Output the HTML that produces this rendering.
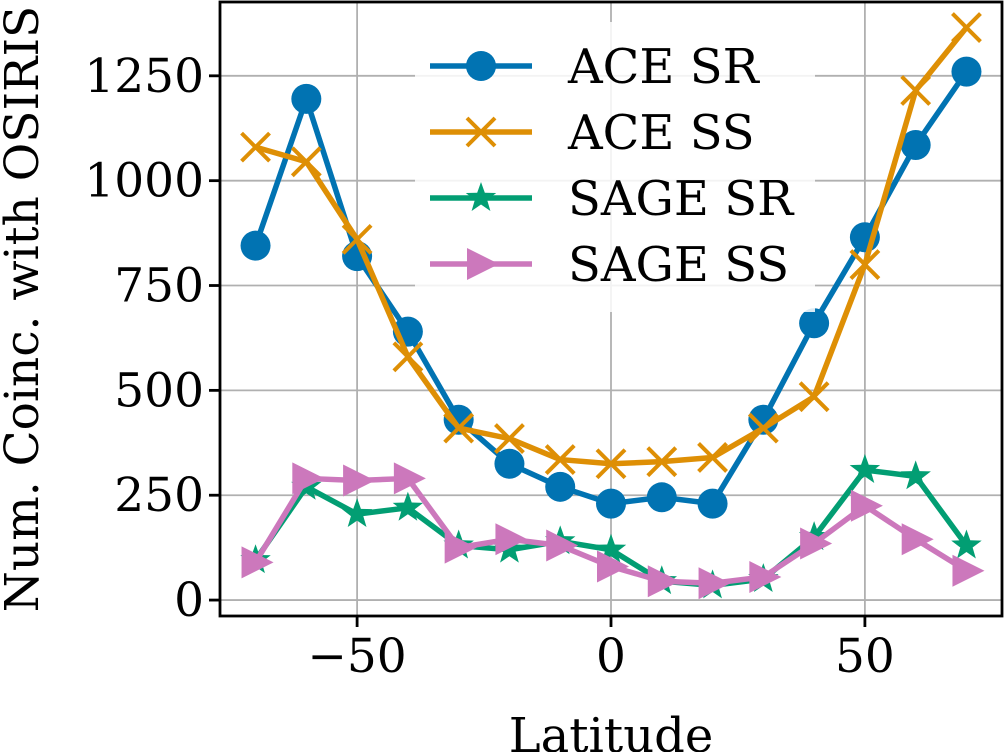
<!DOCTYPE html>
<html><head><meta charset="utf-8"><style>
html,body{margin:0;padding:0;background:#fff;}
svg{display:block;font-family:"DejaVu Serif","Liberation Serif",serif;}
</style></head><body>
<svg id="chart" width="1004" height="752" viewBox="0 0 1004 752" xmlns="http://www.w3.org/2000/svg"></svg>
<script>
const latitudes=[-70,-60,-50,-40,-30,-20,-10,0,10,20,30,40,50,60,70];
const aceSR=[845,1195,820,640,430,325,270,230,245,230,430,660,865,1085,1260];
const aceSS=[1080,1045,860,580,410,385,335,325,330,340,410,485,800,1215,1365];
const sageSR=[95,270,205,220,130,120,140,120,45,35,50,150,310,295,130];
const sageSS=[90,290,285,290,125,145,130,80,45,40,55,135,225,145,70];
const xTicks=[-50,0,50];
const xTickLabels=["\u221250","0","50"];
const yTicks=[0,250,500,750,1000,1250];
const yTickLabels=["0","250","500","750","1000","1250"];
const seriesNames=["ACE SR","ACE SS","SAGE SR","SAGE SS"];

const L=220,R=1002,T=2,B=616;
const xMin=-77,xMax=77,yMin=-38,yMax=1426;
const xs=v=>L+(v-xMin)/(xMax-xMin)*(R-L);
const ys=v=>B-(v-yMin)/(yMax-yMin)*(B-T);
const NS="http://www.w3.org/2000/svg";
const svg=document.getElementById('chart');
function mk(tag,attrs,parent){const e=document.createElementNS(NS,tag);for(const k in attrs)e.setAttribute(k,attrs[k]);(parent||svg).appendChild(e);return e;}

const grid=mk('g',{});


xTicks.forEach((t,i)=>{
  mk('line',{x1:xs(t),x2:xs(t),y1:T,y2:B,stroke:'#b0b0b0','stroke-width':1.8},grid);
  mk('line',{x1:xs(t),x2:xs(t),y1:B,y2:B+11,stroke:'#000','stroke-width':2.8});
  const tx=mk('text',{x:xs(t),y:B+56,'text-anchor':'middle','font-size':47});
  
  
  tx.textContent=xTickLabels[i];
});
yTicks.forEach((t,i)=>{
  mk('line',{x1:L,x2:R,y1:ys(t),y2:ys(t),stroke:'#b0b0b0','stroke-width':1.8},grid);
  mk('line',{x1:L-11,x2:L,y1:ys(t),y2:ys(t),stroke:'#000','stroke-width':2.8});
  const tx=mk('text',{x:L-16,y:ys(t)+16,'text-anchor':'end','font-size':47});
  
  
  tx.textContent=yTickLabels[i];
});

function marker(type,x,y,c,g){
  if(type==='o') mk('circle',{cx:x,cy:y,r:15,fill:c},g);
  else if(type==='x'){mk('path',{d:`M${x-14},${y-14}L${x+14},${y+14}M${x-14},${y+14}L${x+14},${y-14}`,stroke:c,'stroke-width':4},g);}
  else if(type==='*'){let p='';for(let k=0;k<10;k++){const r=k%2?6.5:16;const a=-Math.PI/2+k*Math.PI/5;p+=(k?'L':'M')+(x+r*Math.cos(a))+','+(y+r*Math.sin(a));}mk('path',{d:p+'Z',fill:c},g);}
  else if(type==='>'){mk('path',{d:`M${x-14},${y-16}L${x+18},${y}L${x-14},${y+16}Z`,fill:c},g);}
}
const series=[[aceSR,'#0173b2','o'],[aceSS,'#de8f05','x'],[sageSR,'#029e73','*'],[sageSS,'#cc78bc','>']];
const names=['ace-sr-series','ace-ss-series','sage-sr-series','sage-ss-series'];
series.forEach(([vals,c,m],i)=>{
  const g=mk('g',{});
  
  
  mk('polyline',{points:vals.map((v,j)=>xs(latitudes[j])+','+ys(v)).join(' '),fill:'none',stroke:c,'stroke-width':5.5,'stroke-linejoin':'round'},g);
  vals.forEach((v,j)=>marker(m,xs(latitudes[j]),ys(v),c,g));
});

const lg=mk('g',{});


mk('rect',{x:415,y:22,width:400,height:290,fill:'#fff',opacity:0.85},lg);
series.forEach(([vals,c,m],i)=>{
  const y=66+i*66;
  mk('line',{x1:430,x2:532,y1:y,y2:y,stroke:c,'stroke-width':5.5},lg);
  marker(m,481,y,c,lg);
  const tx=mk('text',{x:568,y:y+17,'font-size':48},lg);
  
  
  tx.textContent=seriesNames[i];
});

const frame=mk('rect',{x:L,y:T,width:R-L,height:B-T,fill:'none',stroke:'#000','stroke-width':2.8});


const xt=mk('text',{x:(L+R)/2,y:752,'text-anchor':'middle','font-size':48});


xt.textContent='Latitude';
const yt=mk('text',{x:0,y:0,'text-anchor':'middle','font-size':47,transform:`translate(38,${(T+B)/2}) rotate(-90)`});


yt.textContent='Num. Coinc. with OSIRIS';
</script>
</body></html>
